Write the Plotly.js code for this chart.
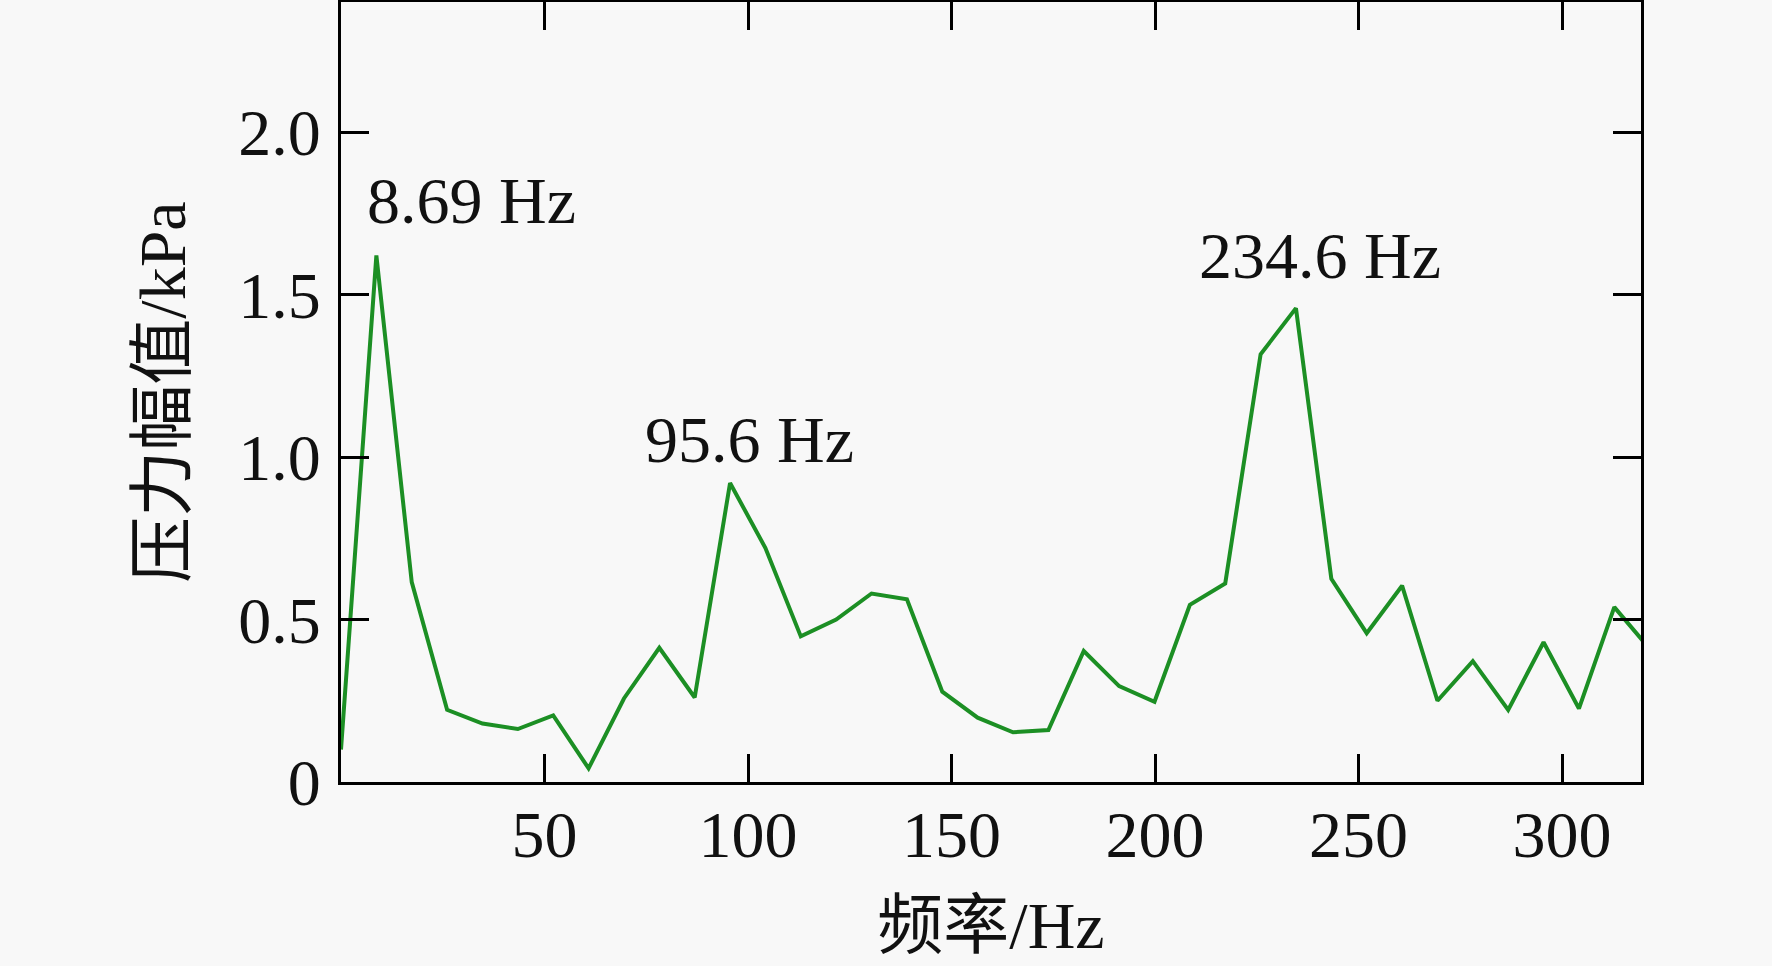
<!DOCTYPE html>
<html>
<head>
<meta charset="utf-8">
<script src="https://cdn.plot.ly/plotly-3.0.1.min.js"></script>
<style>
  html, body { margin: 0; padding: 0; background: #f8f8f8; }
  #chart { width: 1772px; height: 966px; }
</style>
</head>
<body>
<div id="chart"></div>
<script>
// Frequencies (Hz) and pressure amplitudes (kPa)
const freqHz = [0, 8.69, 17.38, 26.07, 34.76, 43.45, 52.14, 60.83, 69.52, 78.21,
  86.9, 95.59, 104.28, 112.97, 121.66, 130.35, 139.04, 147.73, 156.42, 165.11,
  173.8, 182.49, 191.18, 199.87, 208.56, 217.25, 225.94, 234.63, 243.32, 252.01,
  260.7, 269.39, 278.08, 286.77, 295.46, 304.15, 312.84, 321.53];
const amplitudeKPa = [0.10, 1.62, 0.615, 0.222, 0.18, 0.163, 0.205, 0.042, 0.257, 0.413,
  0.26, 0.92, 0.72, 0.448, 0.50, 0.58, 0.562, 0.278, 0.198, 0.153,
  0.16, 0.403, 0.295, 0.247, 0.545, 0.611, 1.316, 1.458, 0.625, 0.458,
  0.604, 0.25, 0.372, 0.222, 0.43, 0.226, 0.538, 0.41];

// Peak labels
const peakIndex = [1, 11, 27];
const peakLabels = ['8.69 Hz', '95.6 Hz', '234.6 Hz'];
const peakShiftX = [95, 19, 24];
const peakShiftY = [55, 44, 53];

const xTickVals = [50, 100, 150, 200, 250, 300];
const xTickText = ['50', '100', '150', '200', '250', '300'];
const yTickVals = [0, 0.5, 1.0, 1.5, 2.0];
const yTickText = ['0', '0.5', '1.0', '1.5', '2.0'];

const fontFam = 'Liberation Serif, Noto Sans CJK SC, serif';
const bigFont = {family: fontFam, size: 66, color: '#111'};

const trace = {
  x: freqHz,
  y: amplitudeKPa,
  type: 'scatter',
  mode: 'lines',
  line: {color: '#1c8f24', width: 4},
  hoverinfo: 'skip'
};

const annotations = peakIndex.map((idx, i) => ({
  x: freqHz[idx],
  y: amplitudeKPa[idx],
  xref: 'x', yref: 'y',
  text: peakLabels[i],
  showarrow: false,
  xanchor: 'center', yanchor: 'middle',
  xshift: peakShiftX[i], yshift: peakShiftY[i],
  font: bigFont
}));

const axisCommon = {
  showline: true, linecolor: '#000', linewidth: 3,
  mirror: 'ticks', ticks: 'inside', ticklen: 28, tickwidth: 3, tickcolor: '#000',
  showgrid: false, zeroline: false,
  tickfont: bigFont
};

const layout = {
  width: 1772, height: 966,
  paper_bgcolor: '#f8f8f8', plot_bgcolor: '#f8f8f8',
  margin: {l: 341, r: 131, t: 2, b: 184},
  showlegend: false,
  xaxis: Object.assign({}, axisCommon, {
    range: [0, 319.4],
    tickmode: 'array', tickvals: xTickVals, ticktext: xTickText,
    ticklabelstandoff: -7,
    title: {text: '频率/Hz', font: bigFont, standoff: 32}
  }),
  yaxis: Object.assign({}, axisCommon, {
    range: [0, 2.4],
    tickmode: 'array', tickvals: yTickVals, ticktext: yTickText,
    ticklabelstandoff: 4,
    title: {text: '压力幅值/kPa', font: bigFont, standoff: 32}
  }),
  annotations: annotations
};

Plotly.newPlot('chart', [trace], layout, {staticPlot: true, displayModeBar: false});
</script>
</body>
</html>
